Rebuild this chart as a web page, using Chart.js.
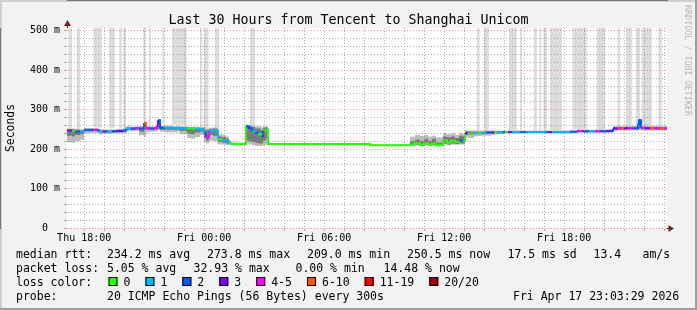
<!DOCTYPE html>
<html>
<head>
<meta charset="utf-8">
<title>Last 30 Hours from Tencent to Shanghai Unicom</title>
<script src="https://cdn.jsdelivr.net/npm/chart.js@4.4.1/dist/chart.umd.min.js"></script>
<style>
  html, body { margin: 0; padding: 0; background: #f2f2f2; }
  canvas { display: block; }
</style>
</head>
<body>
<canvas id="smokeChart" width="697" height="310"></canvas>
<script>
// sample start times, hours since Thu 00:00 (each value holds until the next one)
var times = [
  17.14, 17.39, 17.54, 17.79, 17.99, 18.29, 18.44, 18.64, 18.74, 18.94,
  19.14, 19.39, 19.64, 19.94, 20.09, 20.34, 20.54, 20.74, 20.99, 21.09,
  21.29, 21.49, 21.64, 21.69, 21.79, 22.04, 22.44, 22.79, 23.14, 23.29,
  23.54, 23.79, 23.99, 24.09, 24.24, 24.44, 24.64, 24.69, 24.89, 25.09,
  25.24, 25.34, 26.09, 26.24, 26.39, 26.54, 26.69, 26.84, 26.94, 27.09,
  27.19, 32.29, 34.29, 34.54, 34.79, 34.99, 35.19, 35.39, 35.59, 35.94,
  36.14, 36.34, 36.54, 36.74, 36.94, 37.04, 37.19, 37.49, 37.69, 37.84,
  38.09, 38.34, 38.49, 38.64, 38.94, 39.04, 39.19, 39.39, 39.79, 40.09,
  40.79, 41.09, 41.24, 41.39, 42.04, 42.29, 42.64, 42.94, 43.24, 43.54,
  43.79, 44.09, 44.29, 44.44, 44.64, 44.84, 44.99, 45.19, 45.44, 45.69,
  45.74, 45.84, 46.04, 46.29, 46.49, 46.79, 46.99, 47.14
];

// median rtt in ms
var medianRtt = [
  247, 246, 244, 244, 249, 249, 249, 248, 245, 245,
  245, 245, 246, 247, 252, 252, 253, 252, 266, 253,
  252, 253, 260, 273, 254, 254, 254, 253, 252, 252,
  251, 250, 240, 230, 247, 248, 246, 225, 222, 220,
  216, 213, 258, 253, 245, 241, 238, 232, 248, 249,
  213, 210, 212, 215, 211, 214, 212, 214, 210, 222,
  217, 221, 218, 222, 221, 240, 239, 241, 241, 241,
  242, 242, 242, 242, 243, 243, 243, 243, 243, 243,
  243, 243, 243, 243, 243, 244, 246, 245, 245, 245,
  245, 246, 246, 252, 253, 252, 253, 253, 253, 262,
  273, 254, 253, 253, 253, 252, 253, 253
];

// lost pings out of 20
var lostPings = [
  3, 0, 2, 1, 2, 2, 4, 2, 1, 3,
  1, 2, 3, 2, 1, 2, 4, 2, 8, 4,
  2, 4, 3, 2, 2, 1, 1, 1, 0, 0,
  1, 1, 2, 4, 1, 1, 1, 0, 1, 1,
  0, 0, 2, 2, 1, 2, 0, 2, 0, 0,
  0, 0, 0, 0, 0, 0, 0, 0, 0, 0,
  0, 0, 0, 2, 0, 3, 0, 1, 0, 1,
  2, 3, 0, 1, 2, 0, 3, 1, 2, 1,
  1, 2, 3, 1, 1, 2, 4, 2, 1, 4,
  2, 3, 2, 3, 4, 7, 3, 4, 2, 2,
  2, 4, 3, 8, 4, 7, 4, 4
];

// full spread of the pings (light smoke), ms
var smokeHigh = [
  252, 252, 251, 250, 253, 253, 253, 252, 250, 250,
  250, 250, 251, 252, 258, 257, 258, 258, 268, 258,
  258, 258, 264, 276, 259, 259, 258, 258, 257, 257,
  257, 256, 254, 252, 254, 255, 254, 238, 236, 232,
  222, 216, 262, 261, 259, 258, 258, 255, 258, 258,
  214, 211, 232, 236, 233, 236, 232, 234, 230, 240,
  238, 240, 236, 240, 238, 247, 247, 247, 247, 247,
  247, 247, 247, 247, 247, 247, 247, 247, 247, 247,
  247, 247, 247, 247, 247, 248, 250, 250, 249, 250,
  250, 250, 251, 258, 259, 258, 259, 259, 259, 266,
  276, 259, 259, 259, 259, 258, 259, 259
];
var smokeLow = [
  217, 216, 220, 224, 240, 241, 241, 240, 238, 239,
  239, 240, 240, 241, 245, 245, 246, 235, 232, 243,
  244, 245, 245, 248, 244, 243, 243, 238, 228, 226,
  230, 236, 218, 215, 222, 220, 215, 212, 212, 210,
  211, 211, 214, 212, 210, 208, 208, 208, 210, 212,
  212, 209, 209, 209, 208, 209, 209, 209, 208, 212,
  210, 212, 211, 212, 212, 230, 228, 232, 233, 234,
  234, 236, 237, 238, 240, 240, 240, 240, 241, 241,
  241, 241, 241, 241, 241, 241, 242, 242, 242, 242,
  242, 242, 242, 246, 247, 247, 247, 247, 247, 248,
  248, 248, 247, 247, 247, 247, 247, 247
];

// middle half of the pings (dark smoke), ms
var coreHigh = [
  250, 250, 249, 248, 251, 251, 251, 250, 248, 248,
  248, 248, 249, 250, 255, 255, 256, 255, 267, 256,
  255, 256, 262, 275, 257, 257, 256, 256, 255, 255,
  254, 253, 250, 248, 251, 252, 250, 232, 230, 226,
  218, 214, 260, 258, 256, 252, 252, 248, 254, 255,
  213, 210, 220, 224, 220, 226, 221, 226, 216, 232,
  230, 232, 228, 234, 232, 245, 244, 244, 244, 244,
  245, 245, 245, 245, 245, 245, 245, 245, 245, 245,
  245, 245, 245, 245, 245, 246, 248, 248, 247, 248,
  248, 248, 249, 256, 256, 256, 256, 256, 256, 264,
  275, 257, 256, 256, 256, 256, 256, 256
];
var coreLow = [
  234, 232, 236, 238, 245, 245, 246, 245, 242, 242,
  242, 242, 243, 244, 249, 249, 250, 244, 250, 249,
  249, 250, 250, 252, 249, 249, 249, 246, 240, 238,
  242, 244, 228, 222, 236, 234, 228, 218, 216, 214,
  213, 212, 222, 220, 218, 216, 214, 214, 222, 226,
  212, 209, 210, 211, 210, 211, 210, 211, 209, 214,
  212, 214, 213, 215, 214, 236, 236, 238, 238, 238,
  239, 239, 240, 240, 241, 241, 241, 241, 242, 242,
  242, 242, 242, 242, 242, 242, 243, 243, 243, 243,
  243, 243, 243, 249, 250, 250, 250, 250, 250, 252,
  252, 250, 250, 250, 250, 250, 250, 250
];

// slow outlier pings running off the top of the graph
var bandFrom = [17.21, 17.63, 18.46, 19.24, 19.76, 19.96, 20.96, 21.24, 21.91, 22.39,
                23.79, 23.99, 24.54, 26.29, 37.63, 37.99, 39.24, 39.79, 40.49, 40.76,
                40.96, 41.29, 42.41, 43.63, 44.66, 45.09, 45.59, 45.88, 46.71];
var bandTo   = [17.38, 17.79, 18.88, 19.54, 19.88, 20.09, 21.08, 21.33, 21.99, 23.13,
                23.91, 24.21, 24.74, 26.54, 37.76, 38.23, 39.63, 39.88, 40.63, 40.86,
                41.13, 41.88, 43.13, 44.04, 44.79, 45.38, 45.79, 46.38, 46.88];
var bandLow  = [249, 250, 255, 254, 252, 252, 262, 258, 262, 262,
                256, 250, 248, 258, 246, 246, 248, 248, 248, 248,
                248, 248, 250, 250, 258, 258, 260, 258, 258];

var xTickHours = [18, 24, 30, 36, 42];
var xTickLabels = ['Thu 18:00', 'Fri 00:00', 'Fri 06:00', 'Fri 12:00', 'Fri 18:00'];
var yTickValues = [0, 100, 200, 300, 400, 500];
var yTickLabels = ['0  ', '100 m', '200 m', '300 m', '400 m', '500 m'];

var lossLabels = ['0', '1', '2', '3', '4-5', '6-10', '11-19', '20/20'];
var lossLimits = [0, 1, 2, 3, 5, 10, 19, 20];

var xMin = 17.14, xMax = 47.14, yMax = 507;
var mono = "'DejaVu Sans Mono', monospace";
var lossColors = ['#26ff00', '#00b8ff', '#0059ff', '#7e00ff', '#ff00ff', '#ff5500', '#ff0000', '#a10000'];
var minorGrid = 'rgba(143,143,143,0.75)';
var majorGrid = 'rgba(222,79,79,0.6)';

function lossColor(lost) {
    for (var i = 0; i < lossLimits.length; i++) {
        if (lost <= lossLimits[i]) return lossColors[i];
    }
    return lossColors[lossColors.length - 1];
}

function toPoints(values) {
    return times.map(function (t, i) { return {x: t, y: values[i]}; });
}

// lower edge of the outlier bands, sitting at the top of the scale outside a band
var bandPoints = [{x: xMin, y: yMax}];
bandFrom.forEach(function (f, i) {
    bandPoints.push({x: f, y: bandLow[i]});
    bandPoints.push({x: bandTo[i], y: yMax});
});
bandPoints.push({x: xMax, y: yMax});

function areaEdge(label, data, fill, color) {
    return {
        label: label,
        data: data,
        stepped: true,
        borderWidth: 0,
        borderColor: 'rgba(0,0,0,0)',
        pointRadius: 0,
        fill: fill,
        backgroundColor: color || 'rgba(0,0,0,0)'
    };
}

var decorations = {
    id: 'decorations',
    beforeDraw: function (chart) {
        var ctx = chart.ctx, a = chart.chartArea, w = chart.width, h = chart.height;
        ctx.save();
        ctx.fillStyle = '#f2f2f2';
        ctx.fillRect(0, 0, w, h);
        ctx.fillStyle = '#cfcfcf';
        ctx.fillRect(0, 0, w, 2);
        ctx.fillRect(0, 0, 2, h);
        ctx.fillStyle = '#9e9e9e';
        ctx.fillRect(0, h - 2, w, 2);
        ctx.fillRect(w - 2, 0, 2, h);
        ctx.fillStyle = '#ffffff';
        ctx.fillRect(a.left, a.top, a.right - a.left, a.bottom - a.top);
        ctx.restore();
    },
    afterDraw: function (chart) {
        var ctx = chart.ctx, a = chart.chartArea;
        ctx.save();

        // axis extensions and arrows
        ctx.strokeStyle = '#1f1f1f';
        ctx.lineWidth = 1;
        ctx.beginPath();
        ctx.moveTo(a.left + 0.5, a.top);
        ctx.lineTo(a.left + 0.5, a.top - 3);
        ctx.moveTo(a.right, a.bottom + 0.5);
        ctx.lineTo(a.right + 2, a.bottom + 0.5);
        ctx.stroke();
        ctx.fillStyle = '#801f1f';
        ctx.beginPath();
        ctx.moveTo(a.left + 0.5, a.top - 8);
        ctx.lineTo(a.left + 4, a.top - 2);
        ctx.lineTo(a.left - 3, a.top - 2);
        ctx.closePath();
        ctx.fill();
        ctx.beginPath();
        ctx.moveTo(a.right + 7, a.bottom + 0.5);
        ctx.lineTo(a.right + 1.5, a.bottom - 3);
        ctx.lineTo(a.right + 1.5, a.bottom + 4);
        ctx.closePath();
        ctx.fill();

        // legend block
        ctx.fillStyle = '#000';
        ctx.font = '11.5px ' + mono;
        ctx.textBaseline = 'alphabetic';
        ctx.textAlign = 'left';
        var rows = [
            [258, [[16, 'median rtt:'], [107, '234.2 ms avg'], [207, '273.8 ms max'], [307, '209.0 ms min'],
                   [407, '250.5 ms now'], [507.5, '17.5 ms sd'], [593.5, '13.4'], [642.5, 'am/s']]],
            [272, [[16, 'packet loss:'], [107, '5.05 % avg'], [193.5, '32.93 % max'], [295.5, '0.00 % min'],
                   [383.5, '14.48 % now']]],
            [286, [[16, 'loss color:']]],
            [300, [[16, 'probe:'], [107, '20 ICMP Echo Pings (56 Bytes) every 300s'], [513, 'Fri Apr 17 23:03:29 2026']]]
        ];
        rows.forEach(function (row) {
            row[1].forEach(function (item) { ctx.fillText(item[1], item[0], row[0]); });
        });
        var bx = 108.5;
        lossLabels.forEach(function (label, i) {
            ctx.fillStyle = lossColors[i];
            ctx.fillRect(bx, 277, 9, 9);
            ctx.strokeStyle = '#000';
            ctx.strokeRect(bx + 0.5, 277.5, 8, 8);
            ctx.fillStyle = '#000';
            ctx.fillText(label, bx + 15, 286);
            bx += 15 + ctx.measureText(label).width + 15;
        });

        // watermark
        ctx.fillStyle = '#b8b8b8';
        ctx.font = '8.4px ' + mono;
        ctx.textBaseline = 'middle';
        ctx.translate(687, 5);
        ctx.rotate(Math.PI / 2);
        ctx.fillText('RRDTOOL / TOBI OETIKER', 0, 0);
        ctx.restore();
    }
};

var chart = new Chart(document.getElementById('smokeChart').getContext('2d'), {
    type: 'line',
    data: {
        datasets: [
            {
                label: 'median rtt',
                data: toPoints(medianRtt),
                stepped: true,
                borderWidth: 2,
                borderColor: lossColors[0],
                pointRadius: 0,
                fill: false,
                segment: {
                    borderColor: function (c) { return lossColor(lostPings[c.p0DataIndex]); }
                }
            },
            areaEdge('core high', toPoints(coreHigh), '+1', '#7a7a7a'),
            areaEdge('core low', toPoints(coreLow), false),
            areaEdge('smoke high', toPoints(smokeHigh), '+1', '#bdbdbd'),
            areaEdge('smoke low', toPoints(smokeLow), false),
            areaEdge('outliers', bandPoints, 'end', '#dcdcdc')
        ]
    },
    options: {
        responsive: false,
        animation: false,
        events: [],
        layout: { padding: { left: 0, right: 0, top: 0, bottom: 62 } },
        plugins: {
            legend: { display: false },
            tooltip: { enabled: false },
            title: {
                display: true,
                text: 'Last 30 Hours from Tencent to Shanghai Unicom',
                color: '#000',
                font: { family: mono, size: 13.3, weight: 'normal', lineHeight: 1.1 },
                padding: { top: 13, bottom: 0.4 }
            }
        },
        scales: {
            x: {
                type: 'linear',
                min: xMin,
                max: xMax,
                afterBuildTicks: function (scale) {
                    var ticks = [];
                    for (var h = Math.ceil(xMin); h <= xMax; h++) ticks.push({value: h});
                    scale.ticks = ticks;
                },
                afterFit: function (scale) { scale.height = 20; },
                ticks: {
                    autoSkip: false,
                    maxRotation: 0,
                    padding: 1,
                    color: '#000',
                    font: { family: mono, size: 10 },
                    callback: function (v) {
                        var i = xTickHours.indexOf(v);
                        return i >= 0 ? xTickLabels[i] : '';
                    }
                },
                grid: {
                    z: 1,
                    tickLength: 3,
                    color: function (c) { return c.tick && c.tick.value % 3 === 0 ? majorGrid : minorGrid; }
                },
                border: { color: '#1f1f1f', width: 1, dash: [1, 2] }
            },
            y: {
                min: 0,
                max: yMax,
                afterBuildTicks: function (scale) {
                    var ticks = [];
                    for (var v = 0; v <= 500; v += 20) ticks.push({value: v});
                    scale.ticks = ticks;
                },
                afterFit: function (scale) { scale.width = 67; },
                ticks: {
                    autoSkip: false,
                    padding: 4,
                    color: '#000',
                    font: { family: mono, size: 10 },
                    callback: function (v) {
                        var i = yTickValues.indexOf(v);
                        return i >= 0 ? yTickLabels[i] : '';
                    }
                },
                grid: {
                    z: 1,
                    tickLength: 3,
                    color: function (c) { return c.tick && c.tick.value % 100 === 0 ? majorGrid : minorGrid; }
                },
                border: { color: '#1f1f1f', width: 1, dash: [1, 2] },
                title: {
                    display: true,
                    text: 'Seconds',
                    color: '#000',
                    font: { family: mono, size: 11.4 },
                    padding: { top: 4, bottom: 0 }
                }
            },
            // empty strip on the right, keeps the title centred on the whole image
            gutter: {
                type: 'linear',
                position: 'right',
                grid: { display: false, drawTicks: false },
                ticks: { display: false },
                border: { display: false },
                afterFit: function (scale) { scale.width = 30; }
            }
        }
    },
    plugins: [decorations]
});
</script>
</body>
</html>
